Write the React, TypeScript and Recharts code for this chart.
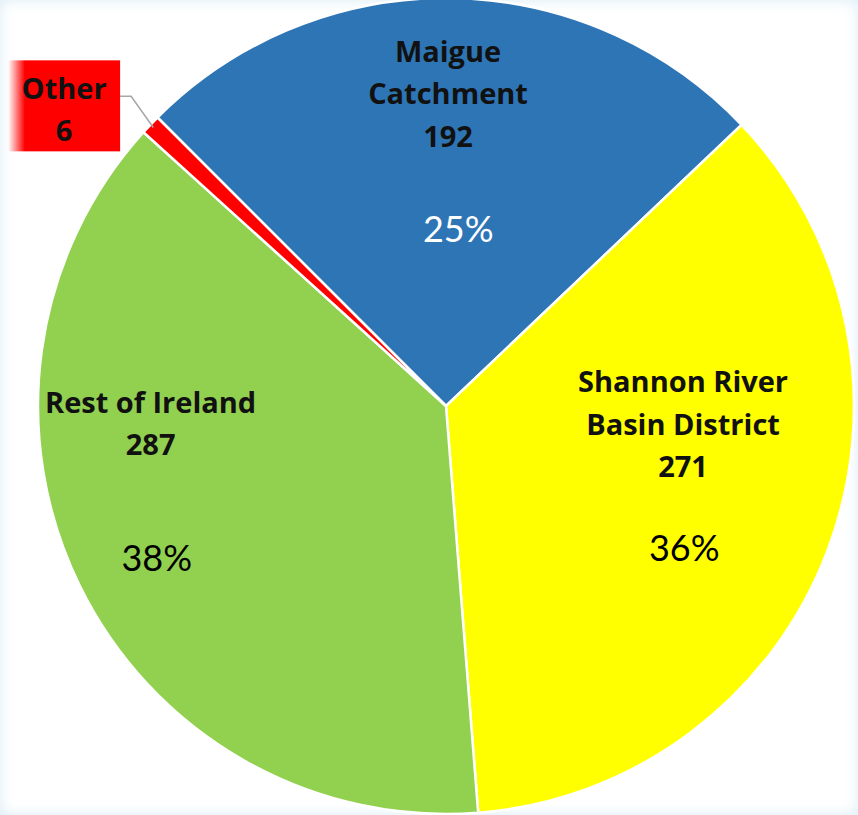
import React from 'react';
import { PieChart, Pie, Cell } from 'recharts';

const names = ['Maigue Catchment', 'Shannon River Basin District', 'Rest of Ireland', 'Other'];
const values = [192, 271, 287, 6];
const percents = ['25%', '36%', '38%', ''];
const colors = ['#2e75b6', '#ffff00', '#92d050', '#ff0000'];

// label text lines per slice
const nameLines: Record<string, string[]> = {
  'Maigue Catchment': ['Maigue', 'Catchment'],
  'Shannon River Basin District': ['Shannon River', 'Basin District'],
  'Rest of Ireland': ['Rest of Ireland'],
  Other: ['Other'],
};

// label placement as fractions of the outer radius, from the pie centre
const labelPos: Record<string, { nx: number; ny: number; px: number; py: number; pctColor: string }> = {
  'Maigue Catchment': { nx: 0.005, ny: -0.872, px: 0.03, py: -0.436, pctColor: '#ffffff' },
  'Shannon River Basin District': { nx: 0.581, ny: -0.062, px: 0.584, py: 0.345, pctColor: '#000000' },
  'Rest of Ireland': { nx: -0.724, ny: -0.012, px: -0.709, py: 0.369, pctColor: '#000000' },
  Other: { nx: -0.936, ny: -0.781, px: 0, py: 0, pctColor: '#000000' },
};

const data = names.map((name, i) => ({ name, value: values[i], pct: percents[i], fill: colors[i] }));

const LINE_H = 42.5;
const RADIAN = Math.PI / 180;

const renderLabel = (props: any) => {
  const { cx, cy, outerRadius, midAngle, payload, index } = props;
  const item = data[index];
  const pos = labelPos[item.name];
  const lines = [...nameLines[item.name], String(item.value)];
  const nx = cx + pos.nx * outerRadius;
  const ny = cy + pos.ny * outerRadius;
  const textEls = lines.map((t, i) => (
    <text
      key={i}
      x={nx}
      y={ny + i * LINE_H}
      textAnchor="middle"
      dominantBaseline="central"
      fontFamily="'Open Sans', sans-serif"
      fontWeight={700}
      fontSize={29}
      fill="#111111"
    >
      {t}
    </text>
  ));
  if (item.name === 'Other') {
    const bx = nx - 56;
    const by = ny - 27;
    const ex = cx + (outerRadius - 4) * Math.cos(-midAngle * RADIAN);
    const ey = cy + (outerRadius - 4) * Math.sin(-midAngle * RADIAN);
    return (
      <g>
        <defs>
          <linearGradient id="otherFade" x1="0" y1="0" x2="1" y2="0">
            <stop offset="0" stopColor="#ffffff" />
            <stop offset="0.15" stopColor="#ff0000" />
            <stop offset="1" stopColor="#ff0000" />
          </linearGradient>
        </defs>
        <polyline
          points={`${bx + 112},${by + 36} ${bx + 123},${by + 36} ${ex},${ey}`}
          fill="none"
          stroke="#a6a6a6"
          strokeWidth={1.5}
        />
        <rect x={bx} y={by} width={112} height={91} fill="url(#otherFade)" />
        {textEls}
      </g>
    );
  }
  return (
    <g>
      {textEls}
      <text
        x={cx + pos.px * outerRadius}
        y={cy + pos.py * outerRadius}
        textAnchor="middle"
        dominantBaseline="central"
        fontFamily="Lato, sans-serif"
        fontSize={36}
        fill={pos.pctColor}
      >
        {payload.pct}
      </text>
    </g>
  );
};

export default function App() {
  return (
    <div
      style={{
        position: 'absolute',
        left: 0,
        top: 0,
        width: 858,
        height: 815,
        background: '#ffffff',
        boxShadow: 'inset 0 0 14px rgba(150, 200, 230, 0.35)',
        overflow: 'hidden',
      }}
    >
      <PieChart width={858} height={815} margin={{ top: 0, right: 0, bottom: 0, left: 0 }}>
        <Pie
          data={data}
          dataKey="value"
          nameKey="name"
          cx={446}
          cy={406}
          outerRadius={408}
          startAngle={135}
          endAngle={-225}
          stroke="#ffffff"
          strokeWidth={2.5}
          labelLine={false}
          label={renderLabel}
          isAnimationActive={false}
        >
          {data.map((d, i) => (
            <Cell key={`cell-${i}`} fill={d.fill} />
          ))}
        </Pie>
      </PieChart>
    </div>
  );
}
